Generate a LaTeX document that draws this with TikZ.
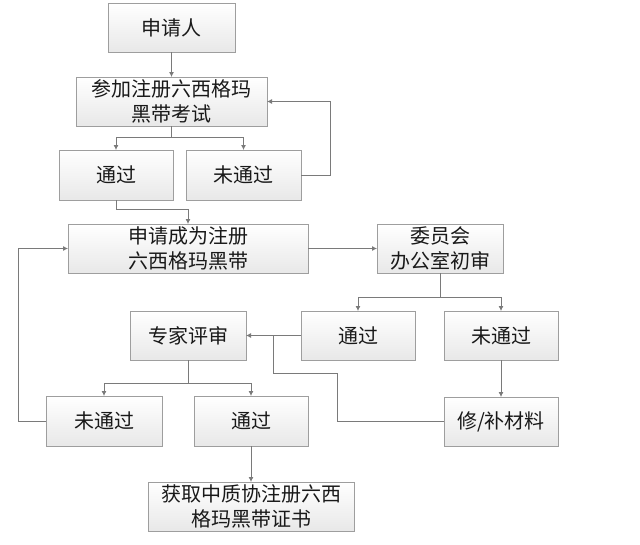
\documentclass[tikz,border=0pt]{standalone}
\usepackage{fontspec}
\newfontfamily\cjk{Noto Sans CJK SC}
\usetikzlibrary{arrows.meta,shadows,calc}
\begin{document}
\begin{tikzpicture}[x=1pt,y=-1pt,
  box/.style={draw=black!38, line width=0.7pt, top color=white, bottom color=black!9,
    rectangle, inner sep=0pt, outer sep=0pt, align=center,
    font=\cjk\fontsize{20}{25}\selectfont, text=black!90,
    drop shadow={shadow xshift=1.2pt, shadow yshift=-1.2pt, opacity=0.18, fill=black}},
  conn/.style={draw=black!52, line width=0.8pt},
  arr/.style={conn, -{Latex[length=5pt,width=5pt]}}]
\useasboundingbox[fill=white] (0,0) rectangle (640,544);
\node[box, minimum width=127pt, minimum height=49pt] (a) at (171.5,27.5) {申请人};
\node[box, minimum width=191pt, minimum height=49pt] (b) at (171.5,101.5) {参加注册六西格玛\\黑带考试};
\node[box, minimum width=114pt, minimum height=50pt] (c) at (116,175) {通过};
\node[box, minimum width=115pt, minimum height=50pt] (d) at (243.5,175) {未通过};
\node[box, minimum width=240pt, minimum height=49pt] (e) at (188,248.5) {申请成为注册\\六西格玛黑带};
\node[box, minimum width=126pt, minimum height=49pt] (f) at (440,248.5) {委员会\\办公室初审};
\node[box, minimum width=116pt, minimum height=49pt] (g) at (188,335.5) {专家评审};
\node[box, minimum width=114pt, minimum height=49pt] (h) at (358,335.5) {通过};
\node[box, minimum width=114pt, minimum height=49pt] (i) at (501,335.5) {未通过};
\node[box, minimum width=114pt, minimum height=49pt] (j) at (501,421.5) {修/补材料};
\node[box, minimum width=116pt, minimum height=50pt] (k) at (104,421) {未通过};
\node[box, minimum width=114pt, minimum height=50pt] (l) at (251,421) {通过};
\node[box, minimum width=206pt, minimum height=49pt] (m) at (251,506.5) {获取中质协注册六西\\格玛黑带证书};
\coordinate (mj) at (273,335.5);
% connectors
\draw[arr] (a.south) -- (b.north);
\draw[arr] (b.south) -- ++(0,11) -| (c.north);
\draw[arr] (b.south) -- ++(0,11) -| (d.north);
\draw[arr] (c.south) -- ++(0,9) -| (e.north);
\draw[arr] (d.east) -- ++(29,0) |- (b.east);
\draw[arr] (e.east) -- (f.west);
\draw[arr] (f.south) -- ++(0,24) -| (h.north);
\draw[arr] (f.south) -- ++(0,24) -| (i.north);
\draw[arr] (h.west) -- (g.east);
\draw[conn] (j.west) -- ++(-107,0) -- ++(0,-48.5) -| (mj);
\draw[arr] (i.south) -- (j.north);
\draw[arr] (g.south) -- ++(0,23) -| (k.north);
\draw[arr] (g.south) -- ++(0,23) -| (l.north);
\draw[arr] (k.west) -- ++(-28,0) |- (e.west);
\draw[arr] (l.south) -- (m.north);
\end{tikzpicture}
\end{document}
